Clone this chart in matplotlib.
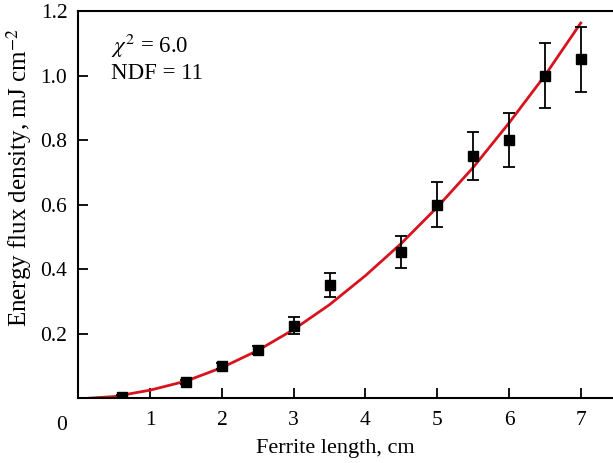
import matplotlib
matplotlib.use("Agg")
import matplotlib.pyplot as plt

plt.rcParams['font.family'] = ['Liberation Serif', 'DejaVu Serif']
plt.rcParams['mathtext.fontset'] = 'stix'

# measured points
length = [0.6, 1.5, 2.0, 2.5, 3.0, 3.5, 4.5, 5.0, 5.5, 6.0, 6.5, 7.0]
flux = [0.004, 0.05, 0.1, 0.15, 0.225, 0.35, 0.453, 0.6, 0.75, 0.8, 1.0, 1.05]
flux_err = [0.005, 0.006, 0.008, 0.012, 0.027, 0.037, 0.05, 0.07, 0.075, 0.083, 0.1, 0.1]

# fit curve
fit_x = [0.15, 0.5, 1.0, 1.5, 2.0, 2.5, 3.0, 3.5, 4.0, 4.5, 5.0, 5.5, 6.0, 6.5, 7.0]
fit_y = [0.0, 0.005, 0.025, 0.053, 0.095, 0.148, 0.213, 0.29, 0.38, 0.48, 0.592, 0.715, 0.853, 1.0, 1.163]

fig = plt.figure(figsize=(6.13, 4.63), dpi=100)
ax = fig.add_axes([0.128, 0.140, 0.872, 0.836])

ax.plot(fit_x, fit_y, color='#d7141e', lw=2, zorder=2)
ax.errorbar(length, flux, yerr=flux_err, fmt='s', color='black', ms=7,
            capsize=4, elinewidth=1.3, capthick=1.3, zorder=3)

ax.set_xlim(0, 7.45)
ax.set_ylim(0, 1.2)
ax.set_xticks([1, 2, 3, 4, 5, 6, 7])
ax.set_yticks([0.2, 0.4, 0.6, 0.8, 1.0, 1.2])
ax.set_yticklabels(['0.2', '0.4', '0.6', '0.8', '1.0', '1.2'])
ax.tick_params(direction='in', length=7, width=1.3, labelsize=15.5, pad=8)
ax.tick_params(axis='x', pad=9)
for s in ax.spines.values():
    s.set_linewidth(1.5)
ax.spines['right'].set_visible(False)

ax.text(-0.022, -0.045, '0', transform=ax.transAxes, fontsize=15.5,
        ha='right', va='top')

ax.set_xlabel('Ferrite length, cm', fontsize=16, labelpad=3)
ax.xaxis.set_label_coords(0.48, -0.105)
ax.set_ylabel('Energy flux density, mJ cm$^{-2}$', fontsize=18, labelpad=5)
ax.yaxis.set_label_coords(-0.083, 0.57)

ax.text(0.06, 0.91, r'$\chi^2$ = 6.0', transform=ax.transAxes, fontsize=16.5, va='center')
ax.text(0.06, 0.84, 'NDF = 11', transform=ax.transAxes, fontsize=16.5, va='center')

fig.savefig('out.png', dpi=100)
